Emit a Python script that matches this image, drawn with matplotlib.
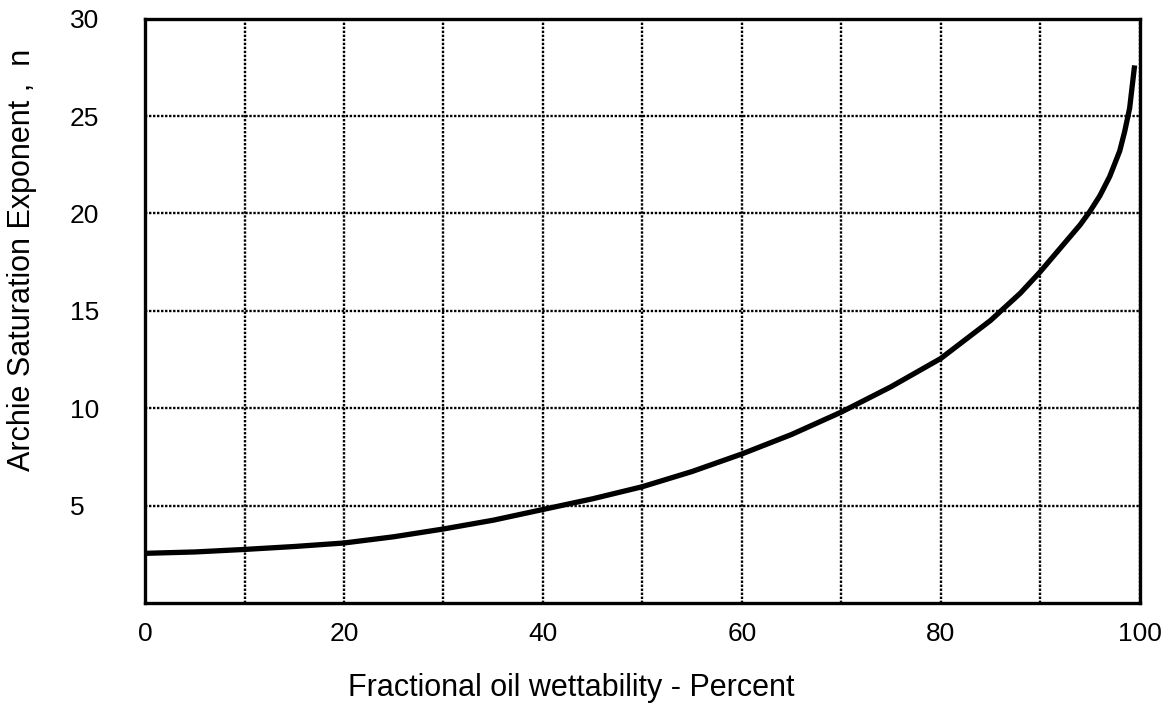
import matplotlib
matplotlib.use("Agg")
import matplotlib.pyplot as plt
from matplotlib.ticker import MultipleLocator

# oil wettability (%) vs Archie saturation exponent n
wettability = [0, 5, 10, 15, 20, 25, 30, 35, 40, 45, 50, 55, 60, 65, 70,
               75, 80, 85, 88, 90, 92, 94, 95, 96, 97, 98, 98.5, 99, 99.5]
exponent_n = [2.55, 2.62, 2.75, 2.9, 3.08, 3.4, 3.8, 4.25, 4.8, 5.35, 5.97,
              6.75, 7.65, 8.65, 9.8, 11.1, 12.55, 14.5, 15.9, 17.0, 18.2,
              19.4, 20.1, 20.9, 21.9, 23.2, 24.2, 25.4, 27.6]

x_ticks = [0, 20, 40, 60, 80, 100]
y_ticks = [5, 10, 15, 20, 25, 30]

plt.rcParams['font.family'] = ['Liberation Sans', 'DejaVu Sans']

fig = plt.figure(figsize=(11.7, 7.17), dpi=100, facecolor='white')
ax = fig.add_axes([0.124, 0.159, 0.850, 0.815])

ax.plot(wettability, exponent_n, color='black', lw=3.8,
        solid_capstyle='butt', solid_joinstyle='round', zorder=3)

ax.set_xlim(0, 100)
ax.set_ylim(0, 30)
ax.set_xticks(x_ticks)
ax.set_yticks(y_ticks)
ax.xaxis.set_minor_locator(MultipleLocator(10))

ax.grid(True, which='both', color='black', linestyle=(0, (1, 0.7)), linewidth=1.7)
ax.tick_params(which='both', length=0)
ax.tick_params(axis='x', pad=14, labelsize=19)
ax.tick_params(axis='y', pad=54, labelsize=19)
for lbl in ax.get_yticklabels():
    lbl.set_horizontalalignment('left')

for s in ax.spines.values():
    s.set_linewidth(2.4)
    s.set_zorder(4)

fig.text(0.488, 0.040, 'Fractional oil wettability - Percent', fontsize=22,
         ha='center', va='center')
fig.text(0.019, 0.637, 'Archie Saturation Exponent ,  n', fontsize=22,
         rotation=90, ha='center', va='center')

fig.savefig('out.png', dpi=100, facecolor='white')
